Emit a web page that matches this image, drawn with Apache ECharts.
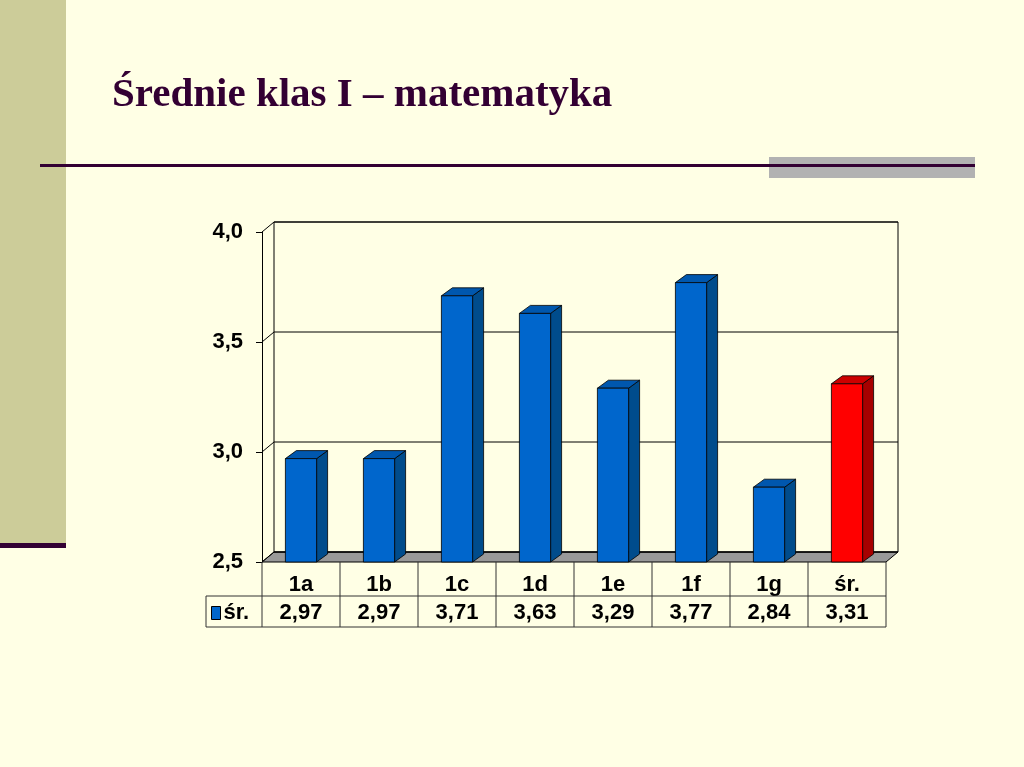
<!DOCTYPE html>
<html>
<head>
<meta charset="utf-8">
<script src="https://cdn.jsdelivr.net/npm/echarts@6/dist/echarts.min.js"></script>
<style>
html,body{margin:0;padding:0;background:#FFFFE5;}
#chart{width:1024px;height:767px;}
</style>
</head>
<body>
<div id="chart"></div>
<script>
// ---- data ----
const titleText = 'Średnie klas I – matematyka';
const categories = ['1a', '1b', '1c', '1d', '1e', '1f', '1g', 'śr.'];
const values = [2.97, 2.97, 3.71, 3.63, 3.29, 3.77, 2.84, 3.31];
const yTicks = [2.5, 3.0, 3.5, 4.0];
const seriesName = 'śr.';
const highlightCategory = 'śr.';

// ---- style constants ----
const BG = '#FFFFE5';
const WDX = 12, WDY = 10;   // wall depth offset
const BDX = 11, BDY = 8;    // bar depth offset
const BLUE = { front: '#0066CC', side: '#004C8C', top: '#0057AE' };
const RED = { front: '#FF0000', side: '#A60000', top: '#CC0000' };
const FONT = 'Liberation Sans, Arial, sans-serif';
const FS = 22;

const fmt = (v, d) => v.toFixed(d).replace('.', ',');
const valueLabels = values.map(v => fmt(v, 2));

const chart = echarts.init(document.getElementById('chart'), null, { renderer: 'canvas' });

function renderWall(params, api) {
  const cs = params.coordSys;
  const gx = cs.x, gy = cs.y, gw = cs.width, gh = cs.height;
  const ch = [];
  // floor
  ch.push({ type: 'polygon', shape: { points: [[gx, gy + gh], [gx + WDX, gy + gh - WDY], [gx + gw + WDX, gy + gh - WDY], [gx + gw, gy + gh]] },
    style: { fill: '#999999', stroke: '#000', lineWidth: 1 } });
  // back wall frame
  ch.push({ type: 'rect', shape: { x: gx + WDX, y: gy - WDY, width: gw, height: gh },
    style: { fill: 'none', stroke: '#000', lineWidth: 1 } });
  // grid lines through side wall and back wall
  yTicks.forEach(t => {
    const y = api.coord([0, t])[1];
    ch.push({ type: 'polyline', shape: { points: [[gx, y], [gx + WDX, y - WDY], [gx + gw + WDX, y - WDY]] },
      style: { fill: null, stroke: '#000', lineWidth: 1 } });
  });
  // data table lines
  const n = categories.length, cw = gw / n;
  const r1 = gy + gh + 34, r2 = gy + gh + 65, legL = gx - 56;
  for (let i = 0; i <= n; i++) {
    const x = gx + i * cw;
    ch.push({ type: 'line', shape: { x1: x, y1: gy + gh, x2: x, y2: r2 }, style: { stroke: '#333', lineWidth: 1 } });
  }
  ch.push({ type: 'line', shape: { x1: legL, y1: r1, x2: gx + gw, y2: r1 }, style: { stroke: '#333', lineWidth: 1 } });
  ch.push({ type: 'line', shape: { x1: legL, y1: r2, x2: gx + gw, y2: r2 }, style: { stroke: '#333', lineWidth: 1 } });
  ch.push({ type: 'line', shape: { x1: legL, y1: r1, x2: legL, y2: r2 }, style: { stroke: '#333', lineWidth: 1 } });
  return { type: 'group', children: ch };
}

function renderBar(params, api) {
  const idx = api.value(0), v = api.value(1);
  const top = api.coord([idx, v]);
  const base = api.coord([idx, yTicks[0]]);
  const bw = api.size([1, 0])[0] * 0.4;
  const x0 = top[0] - bw / 2, x1 = top[0] + bw / 2, yt = top[1], yb = base[1];
  const c = categories[idx] === highlightCategory ? RED : BLUE;
  const st = { stroke: '#000', lineWidth: 0.8 };
  return { type: 'group', children: [
    { type: 'polygon', shape: { points: [[x1, yt], [x1 + BDX, yt - BDY], [x1 + BDX, yb - BDY], [x1, yb]] }, style: Object.assign({ fill: c.side }, st) },
    { type: 'polygon', shape: { points: [[x0, yt], [x0 + BDX, yt - BDY], [x1 + BDX, yt - BDY], [x1, yt]] }, style: Object.assign({ fill: c.top }, st) },
    { type: 'rect', shape: { x: x0, y: yt, width: bw, height: yb - yt }, style: Object.assign({ fill: c.front }, st) }
  ] };
}

const option = {
  backgroundColor: BG,
  animation: false,
  title: {
    text: titleText, left: 112, top: 75, padding: 0,
    textStyle: { fontFamily: 'Liberation Serif, Times New Roman, serif', fontWeight: 'bold', fontSize: 41, color: '#330033' }
  },
  graphic: [
    { type: 'rect', z: -10, shape: { x: 0, y: 0, width: 66, height: 543 }, style: { fill: '#CCCC99' } },
    { type: 'rect', z: -9, shape: { x: 0, y: 543, width: 66, height: 5 }, style: { fill: '#330033' } },
    { type: 'rect', z: -10, shape: { x: 769, y: 157, width: 206, height: 21 }, style: { fill: '#B2B2B2' } },
    { type: 'rect', z: -9, shape: { x: 40, y: 164, width: 935, height: 3 }, style: { fill: '#330033' } }
  ],
  legend: {
    data: [seriesName], left: 211, top: 602, padding: 0,
    icon: 'rect', itemWidth: 9, itemHeight: 13, itemGap: 0,
    textStyle: { fontFamily: FONT, fontWeight: 'bold', fontSize: FS, color: '#000', padding: [0, 0, 0, -2] },
    itemStyle: { borderColor: '#000', borderWidth: 1 }
  },
  grid: { left: 262, right: 138, top: 232, bottom: 205, containLabel: false },
  xAxis: [
    { type: 'category', data: categories, position: 'bottom',
      axisLine: { show: false }, axisTick: { show: false }, splitLine: { show: false },
      axisLabel: { margin: 12, fontFamily: FONT, fontWeight: 'bold', fontSize: FS, color: '#000' } },
    { type: 'category', data: valueLabels, position: 'bottom', offset: 34,
      axisLine: { show: false }, axisTick: { show: false }, splitLine: { show: false },
      axisLabel: { margin: 6, fontFamily: FONT, fontWeight: 'bold', fontSize: FS, color: '#000' } }
  ],
  yAxis: {
    type: 'value', min: yTicks[0], max: yTicks[yTicks.length - 1], interval: yTicks[1] - yTicks[0],
    axisLine: { show: true, lineStyle: { color: '#000', width: 1 } },
    axisTick: { show: true, length: 6, lineStyle: { color: '#000' } },
    splitLine: { show: false },
    axisLabel: { margin: 19, fontFamily: FONT, fontWeight: 'bold', fontSize: FS, color: '#000',
      formatter: v => fmt(v, 1) }
  },
  series: [
    { type: 'custom', name: 'wall', z: 1, clip: false, renderItem: renderWall, data: [[0, yTicks[0]]], silent: true, tooltip: { show: false } },
    { type: 'custom', name: seriesName, z: 2, clip: false, renderItem: renderBar,
      itemStyle: { color: BLUE.front, borderColor: '#000', borderWidth: 1 },
      data: values.map((v, i) => [i, v]), encode: { x: 0, y: 1 } }
  ]
};
chart.setOption(option);
</script>
</body>
</html>
